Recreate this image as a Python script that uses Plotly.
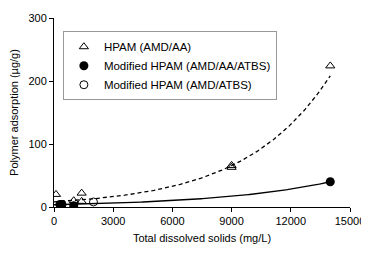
import numpy as np
import plotly.graph_objects as go

# Data
hpam_x = [100, 1000, 1400, 1400, 9000, 9000, 14000]
hpam_y = [20, 10, 22, 9, 66, 63, 224]
mod_aa_x = [300, 400, 1000, 14000]
mod_aa_y = [4, 4, 2, 40]
mod_atbs_x = [400, 2000]
mod_atbs_y = [4, 8]

# Exponential trendline parameters (y = a*exp(b*x))
hpam_trend = (8.2, 2.31e-4)
mod_aa_trend = (3.65, 1.71e-4)

x_ticks = [0, 3000, 6000, 9000, 12000, 15000]
y_ticks = [0, 100, 200, 300]

xs = np.linspace(0, 14000, 200)

fig = go.Figure()
fig.add_trace(go.Scatter(x=xs, y=hpam_trend[0]*np.exp(hpam_trend[1]*xs), mode="lines",
                         line=dict(color="black", width=1.3, dash="4px,3px"), showlegend=False, hoverinfo="skip"))
fig.add_trace(go.Scatter(x=xs, y=mod_aa_trend[0]*np.exp(mod_aa_trend[1]*xs), mode="lines",
                         line=dict(color="black", width=1.4), showlegend=False, hoverinfo="skip"))
fig.add_trace(go.Scatter(x=hpam_x, y=hpam_y, mode="markers", name="HPAM (AMD/AA)",
                         marker=dict(symbol="triangle-up-open", size=8, color="black", line=dict(width=1))))
fig.add_trace(go.Scatter(x=mod_aa_x, y=mod_aa_y, mode="markers", name="Modified HPAM (AMD/AA/ATBS)",
                         marker=dict(symbol="circle", size=9, color="black")))
fig.add_trace(go.Scatter(x=mod_atbs_x, y=mod_atbs_y, mode="markers", name="Modified HPAM (AMD/ATBS)",
                         marker=dict(symbol="circle-open", size=8, color="black", line=dict(width=1))))

# page body has an 8px margin, so the figure is sized/offset to compensate
fig.update_layout(
    width=361, height=248,
    margin=dict(l=46, r=19, t=10, b=49, autoexpand=False),
    paper_bgcolor="white", plot_bgcolor="white",
    font=dict(family="Liberation Sans, Arial", size=11, color="black"),
    legend=dict(x=0.03, y=0.93, xanchor="left", yanchor="top",
                bordercolor="#999999", borderwidth=1, bgcolor="white",
                font=dict(size=11.5), itemwidth=30, tracegroupgap=0),
)
fig.update_xaxes(range=[0, 15000], tickvals=x_ticks, ticktext=[str(v) for v in x_ticks],
                 showgrid=False, zeroline=False, showline=True, linecolor="black", linewidth=1,
                 ticks="outside", ticklen=4, tickcolor="black", automargin=False,
                 title=dict(text="Total dissolved solids (mg/L)", standoff=8, font=dict(size=11)))
fig.update_yaxes(range=[0, 300], tickvals=y_ticks, ticktext=[str(v) for v in y_ticks],
                 showgrid=False, zeroline=False, showline=True, linecolor="black", linewidth=1,
                 ticks="outside", ticklen=4, tickcolor="black", automargin=False,
                 title=dict(text="Polymer adsorption (µg/g)", standoff=8, font=dict(size=11)))

fig.write_html("out.html")
